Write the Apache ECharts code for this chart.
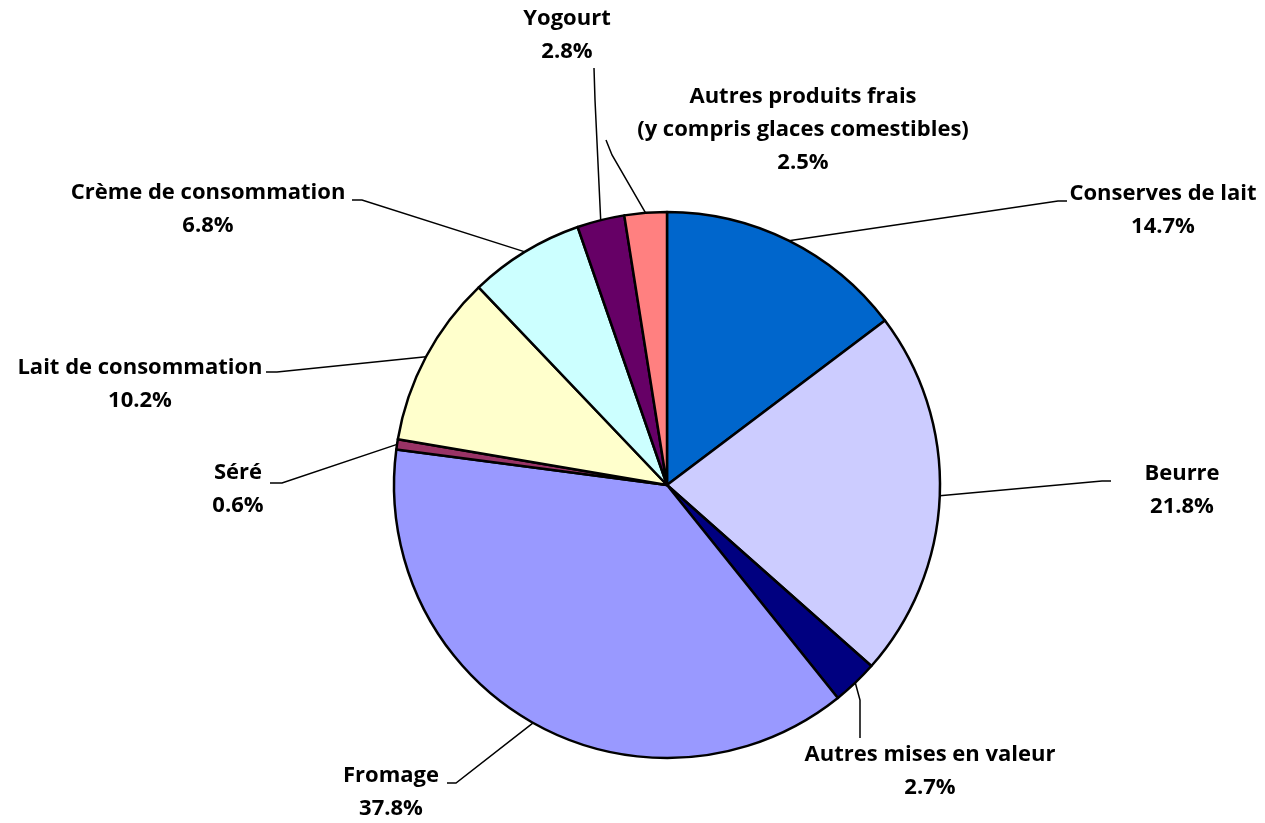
<!DOCTYPE html>
<html>
<head>
<meta charset="utf-8">
<script src="https://cdn.jsdelivr.net/npm/echarts@6/dist/echarts.min.js"></script>
<style>html,body{margin:0;padding:0;background:#fff}#c{width:1265px;height:823px}</style>
</head>
<body>
<div id="c"></div>
<script>
const categories = ["Conserves de lait","Beurre","Autres mises en valeur","Fromage","Séré","Lait de consommation","Crème de consommation","Yogourt","Autres produits frais\n(y compris glaces comestibles)"];
const values = [14.7, 21.8, 2.7, 37.8, 0.6, 10.2, 6.8, 2.8, 2.5];
const colors = ["#0066CC","#CCCCFF","#000080","#9999FF","#993366","#FFFFCC","#CCFFFF","#660066","#FF8080"];

// label layout: [textX, textY, elbowX, elbowY, endX, endY]
const labelPos = [
  [1163, 210, 1058, 201, 1067, 201],
  [1182, 490, 1102, 481, 1111, 481],
  [930, 771, 860, 700, 860, 738],
  [391, 792, 456, 783, 447, 783],
  [238, 489, 282, 483, 270, 483],
  [140, 384, 277, 372, 266, 372],
  [208, 209, 362, 200, 352, 200],
  [567, 35, 595, 100, 594, 68],
  [803, 130, 612, 155, 606, 140]
];

const chart = echarts.init(document.getElementById('c'));
chart.setOption({
  animation: false,
  series: [{
    type: 'pie',
    center: [667, 485],
    radius: 273,
    startAngle: 90,
    clockwise: true,
    avoidLabelOverlap: false,
    data: categories.map((n, i) => ({ name: n, value: values[i], itemStyle: { color: colors[i] } })),
    itemStyle: { borderColor: '#000', borderWidth: 2.5 },
    label: {
      show: true,
      position: 'outside',
      formatter: p => p.name + '\n' + p.value.toFixed(1) + '%',
      fontFamily: 'Open Sans',
      fontWeight: 'bold',
      fontSize: 22,
      lineHeight: 33,
      color: '#000',
      align: 'center'
    },
    labelLine: { show: true, lineStyle: { color: '#000', width: 1.5 }, length: 10, length2: 10 },
    labelLayout: function (params) {
      const lp = labelPos[params.dataIndex];
      const start = params.labelLinePoints ? params.labelLinePoints[0] : [lp[2], lp[3]];
      return {
        x: lp[0], y: lp[1], align: 'center', verticalAlign: 'middle',
        labelLinePoints: [start, [lp[2], lp[3]], [lp[4], lp[5]]]
      };
    },
    emphasis: { disabled: true }
  }]
});
</script>
</body>
</html>
